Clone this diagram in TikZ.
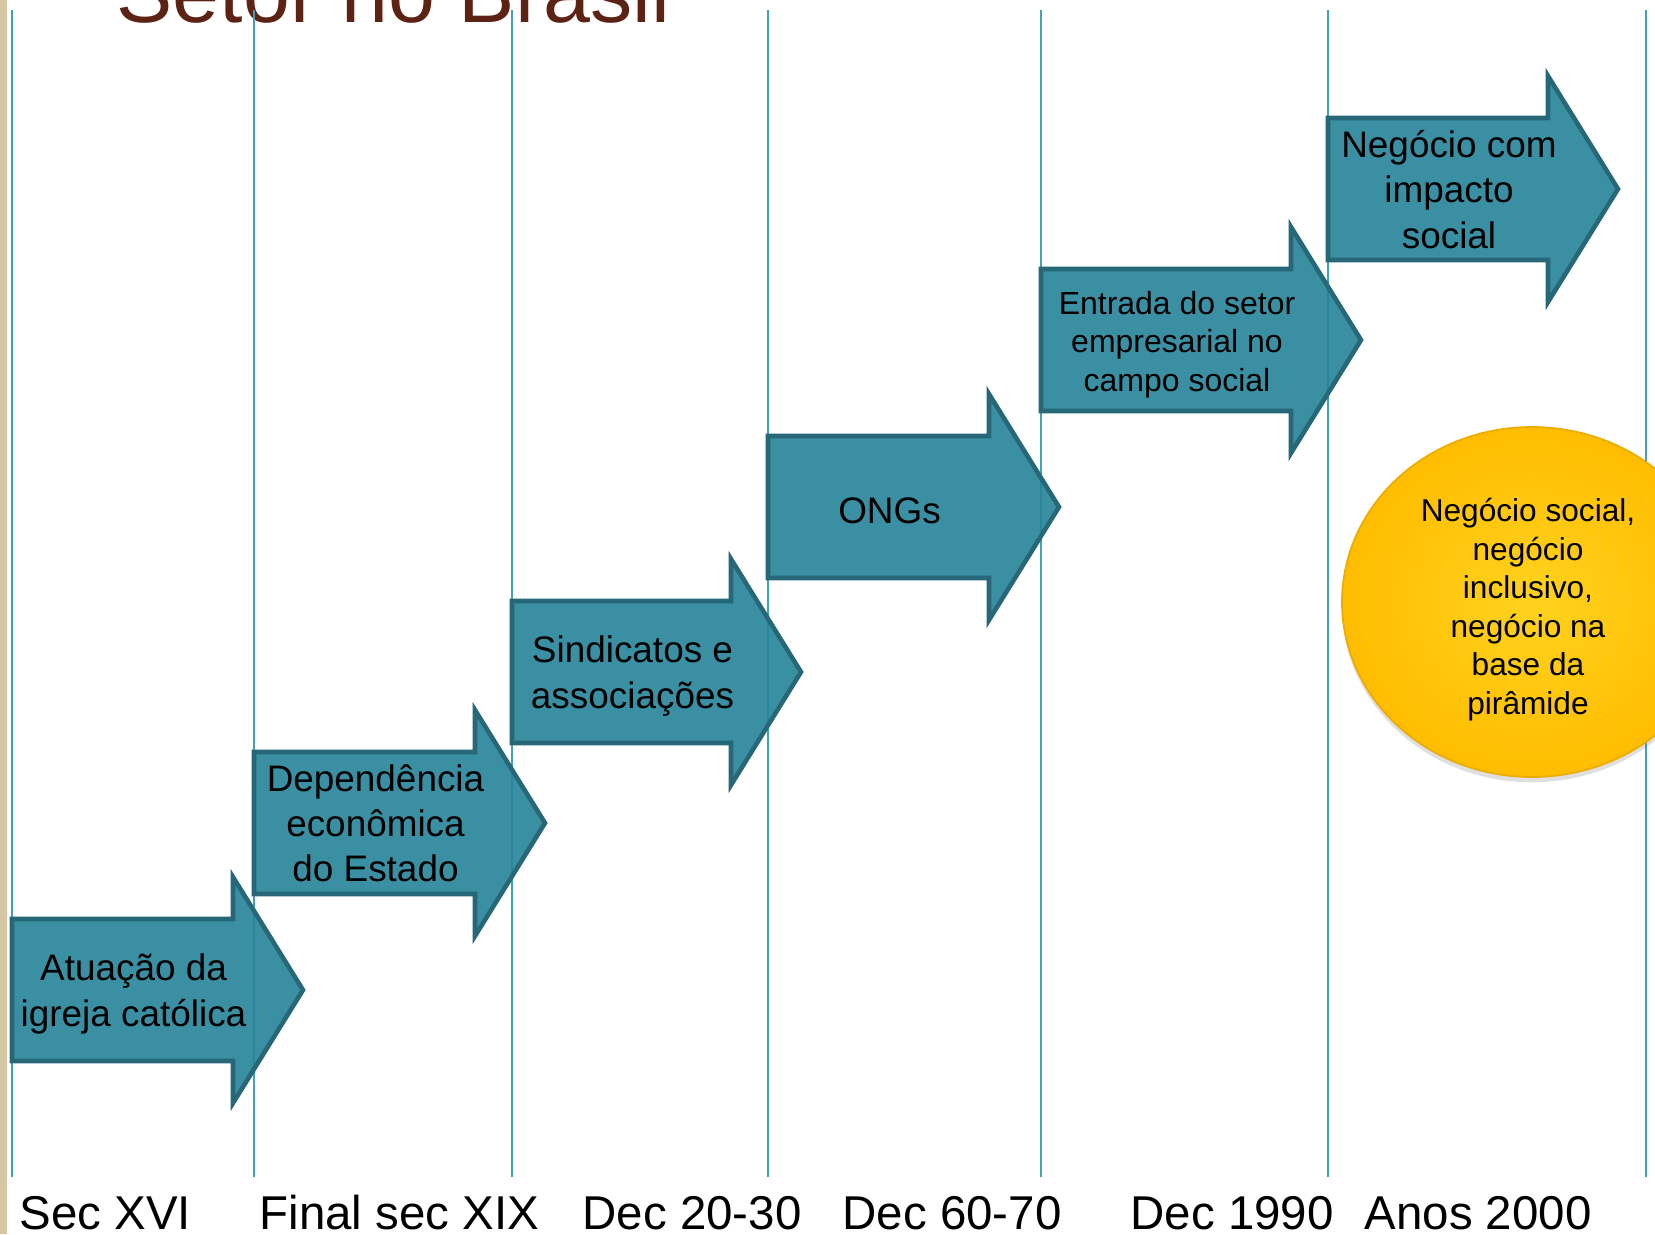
\documentclass[tikz,border=0pt]{standalone}
\usepackage{fontspec}
\setmainfont{Liberation Sans}
\usetikzlibrary{shapes.geometric,shadows}
\definecolor{azulseta}{RGB}{38,131,153}
\definecolor{bordaseta}{RGB}{38,104,120}
\definecolor{linhatempo}{RGB}{70,158,184}
\definecolor{corTitulo}{RGB}{92,34,20}
\definecolor{bege}{RGB}{214,199,164}
\definecolor{amarelo}{RGB}{255,210,30}
\definecolor{laranja}{RGB}{255,189,0}
\definecolor{bordabolha}{RGB}{236,172,0}

\begin{document}
\begin{tikzpicture}[x=0.1mm,y=-0.1mm,
    seta/.style={fill=azulseta,fill opacity=0.9,draw=bordaseta,line width=1.3pt,line join=miter},
    textoseta/.style={align=center,inner sep=0pt,execute at begin node=\strut,execute at end node=\strut},
    periodo/.style={anchor=base west,inner sep=0pt,font=\fontsize{13.5}{16}\selectfont},
    divisoria/.style={draw=linhatempo,line width=0.6pt}]
    \useasboundingbox (0,0) rectangle (1655,1234);
    \clip (0,0) rectangle (1655,1234);

    % Faixa bege na margem esquerda
    \fill[bege] (0,0) rectangle (7,1234);

    % Resto do titulo (cortado no topo)
    \node[anchor=base west,inner sep=0pt,text=corTitulo,font=\fontsize{24}{28}\selectfont] (titulo) at (116,22) {Setor no Brasil};

    % Linhas verticais dos periodos
    \foreach \x in {12,254,512,768,1041,1328,1646}
        \draw[divisoria] (\x,10) -- (\x,1177);

    % Setas da linha do tempo
    \foreach \lx/\cy/\hx/\tam/\esp/\nome/\texto in {
        12/990/233/10.5/12.9/igreja/{Atuação da\\igreja católica},
        254/823/475/10.5/12.9/estado/{Dependência\\econômica\\do Estado},
        512/672/731/10.5/12.9/sindicatos/{Sindicatos e\\associações},
        768/507/989/10.5/12.9/ongs/{ONGs},
        1041/340/1291/9.1/10.95/empresas/{Entrada do setor\\empresarial no\\campo social},
        1328/189/1548/10.5/12.9/impacto/{Negócio com\\impacto\\social}}{
        \draw[seta] (\lx,\cy-71) -- (\hx,\cy-71) -- (\hx,\cy-113) -- (\hx+70,\cy)
            -- (\hx,\cy+113) -- (\hx,\cy+71) -- (\lx,\cy+71) -- cycle;
        \node[textoseta,font=\fontsize{\tam}{\esp}\selectfont] (\nome) at ({(\lx+\hx)/2+11},\cy+7) {\texto};
    }

    % Bolha amarela
    \node[ellipse,minimum width=38mm,minimum height=35mm,draw=bordabolha,line width=0.5pt,
        shading=radial,inner color=amarelo,outer color=laranja,
        drop shadow={shadow xshift=0pt,shadow yshift=-1.5pt,opacity=0.25}] (bolha) at (1532,602) {};
    \node[textoseta,font=\fontsize{9}{10.95}\selectfont] (negocios) at (1528,612)
        {Negócio social,\\negócio\\inclusivo,\\negócio na\\base da\\pirâmide};

    % Periodos
    \foreach \x/\nome/\rotulo in {19/sec16/Sec XVI, 259/sec19/Final sec XIX, 582/dec20/Dec 20-30,
        842/dec60/Dec 60-70, 1130/dec90/Dec 1990, 1364/anos2000/Anos 2000}
        \node[periodo] (\nome) at (\x,1229) {\rotulo};
\end{tikzpicture}
\end{document}
